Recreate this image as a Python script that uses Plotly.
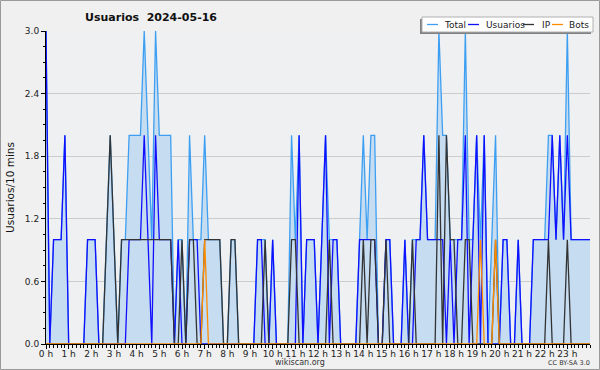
import plotly.graph_objects as go

# ---------------- data (10-minute bins, 0 h .. 24 h) ----------------
step_minutes = 10

total = [3, 0, 1, 1, 1, 2, 0, 0, 0, 0, 0, 1, 1, 1, 0, 0, 1, 2, 1, 0,
         1, 1, 2, 2, 2, 2, 3, 2, 1, 3, 2, 2, 2, 2, 0, 1, 1, 0, 2, 1,
         1, 1, 2, 1, 1, 1, 1, 0, 0, 1, 1, 0, 0, 0, 0, 0, 1, 1, 1, 0,
         1, 0, 0, 0, 0, 2, 1, 2, 0, 1, 1, 1, 0, 1, 2, 1, 1, 1, 0, 0,
         0, 0, 0, 1, 2, 1, 2, 2, 0, 0, 1, 1, 0, 0, 0, 1, 0, 1, 1, 1,
         2, 1, 1, 1, 3, 2, 2, 1, 1, 1, 1, 3, 1, 1, 2, 1, 2, 0, 1, 2,
         0, 1, 1, 0, 0, 1, 0, 0, 0, 1, 1, 1, 1, 2, 2, 1, 2, 1, 3, 1,
         1, 1, 1, 1, 1]

usuarios = [3, 0, 1, 1, 1, 2, 0, 0, 0, 0, 0, 1, 1, 1, 0, 0, 0, 0, 0, 0,
            0, 0, 1, 1, 1, 1, 2, 1, 0, 2, 1, 1, 1, 1, 0, 1, 0, 0, 1, 1,
            1, 0, 0, 0, 0, 0, 0, 0, 0, 0, 0, 0, 0, 0, 0, 0, 1, 1, 0, 0,
            1, 0, 0, 0, 0, 0, 0, 2, 0, 1, 1, 1, 0, 1, 2, 0, 1, 1, 0, 0,
            0, 0, 0, 1, 1, 1, 1, 1, 0, 0, 1, 1, 0, 0, 0, 1, 0, 0, 1, 1,
            2, 1, 1, 1, 1, 1, 0, 1, 0, 1, 1, 2, 0, 1, 2, 0, 2, 0, 0, 0,
            0, 1, 1, 0, 0, 1, 0, 0, 0, 1, 1, 1, 1, 1, 2, 1, 2, 1, 2, 1,
            1, 1, 1, 1, 1]

ip = [0, 0, 0, 0, 0, 0, 0, 0, 0, 0, 0, 0, 0, 0, 0, 0, 1, 2, 1, 0,
      1, 1, 1, 1, 1, 1, 1, 1, 1, 1, 1, 1, 1, 1, 0, 0, 1, 0, 1, 1,
      0, 0, 1, 1, 1, 1, 1, 0, 0, 1, 1, 0, 0, 0, 0, 0, 0, 0, 1, 0,
      0, 0, 0, 0, 0, 1, 1, 0, 0, 0, 0, 0, 0, 0, 0, 1, 0, 0, 0, 0,
      0, 0, 0, 0, 1, 0, 1, 1, 0, 0, 1, 0, 0, 0, 0, 0, 0, 1, 0, 0,
      0, 0, 0, 0, 2, 0, 2, 1, 1, 0, 0, 1, 1, 0, 0, 0, 0, 0, 0, 1,
      0, 0, 0, 0, 0, 0, 0, 0, 0, 0, 0, 0, 0, 1, 0, 0, 0, 0, 1, 0,
      0, 0, 0, 0, 0]

bots = [0, 0, 0, 0, 0, 0, 0, 0, 0, 0, 0, 0, 0, 0, 0, 0, 0, 0, 0, 0,
        0, 0, 0, 0, 0, 0, 0, 0, 0, 0, 0, 0, 0, 0, 0, 0, 0, 0, 0, 0,
        0, 0, 1, 0, 0, 0, 0, 0, 0, 0, 0, 0, 0, 0, 0, 0, 0, 0, 0, 0,
        0, 0, 0, 0, 0, 0, 0, 0, 0, 0, 0, 0, 0, 0, 0, 0, 0, 0, 0, 0,
        0, 0, 0, 0, 0, 0, 0, 0, 0, 0, 0, 0, 0, 0, 0, 0, 0, 0, 0, 0,
        0, 0, 0, 0, 0, 0, 0, 0, 0, 0, 0, 0, 0, 0, 0, 1, 0, 0, 0, 1,
        0, 0, 0, 0, 0, 0, 0, 0, 0, 0, 0, 0, 0, 0, 0, 0, 0, 0, 0, 0,
        0, 0, 0, 0, 0]

series_names = ["Total", "Usuarios", "IP", "Bots"]

x_tick_values = [0, 1, 2, 3, 4, 5, 6, 7, 8, 9, 10, 11, 12, 13, 14, 15, 16,
                 17, 18, 19, 20, 21, 22, 23]
x_tick_labels = ["0 h", "1 h", "2 h", "3 h", "4 h", "5 h", "6 h", "7 h",
                 "8 h", "9 h", "10 h", "11 h", "12 h", "13 h", "14 h", "15 h",
                 "16 h", "17 h", "18 h", "19 h", "20 h", "21 h", "22 h", "23 h"]
y_tick_values = [0, 0.6, 1.2, 1.8, 2.4, 3.0]
y_tick_labels = ["0.0", "0.6", "1.2", "1.8", "2.4", "3.0"]

title_text = "Usuarios  2024-05-16"
y_title = "Usuarios/10 mins"
footer_text = "wikiscan.org"
license_text = "CC BY-SA 3.0"

# time of each bin, in hours
hours = [i * step_minutes / 60 for i in range(len(total))]
minor_ticks = [i * step_minutes / 60 for i in range(len(total))]

# ---------------- styles ----------------
colors = {"Total": "#3d9ff2", "Usuarios": "#1010ff", "IP": "#333333", "Bots": "#ff8c00"}
fill_color = "#c6dcf0"
FONT = "DejaVu Sans"

W, H = 600, 370
L, R, T, B = 46, 10, 31, 26
PW, PH = W - L - R, H - T - B


def px_x(px):
    return (px - L) / PW


def px_y(py):
    return (H - B - py) / PH


fig = go.Figure()
fig.add_trace(go.Scatter(x=hours, y=total, name="Total", mode="lines",
                         line=dict(color=colors["Total"], width=1.3),
                         fill="tozeroy", fillcolor=fill_color))
fig.add_trace(go.Scatter(x=hours, y=usuarios, name="Usuarios", mode="lines",
                         line=dict(color=colors["Usuarios"], width=1.3)))
fig.add_trace(go.Scatter(x=hours, y=ip, name="IP", mode="lines",
                         line=dict(color=colors["IP"], width=1.3)))
fig.add_trace(go.Scatter(x=hours, y=bots, name="Bots", mode="lines",
                         line=dict(color=colors["Bots"], width=1.3)))

fig.update_layout(
    width=W, height=H,
    margin=dict(l=L, r=R, t=T, b=B, pad=0, autoexpand=False),
    paper_bgcolor="#f0f0f0",
    plot_bgcolor="#eef0f2",
    showlegend=False,
    font=dict(family=FONT, size=9, color="#222222"),
    title=dict(text=title_text, x=151 / W, xanchor="center", xref="container",
               y=1 - 17 / H, yanchor="middle", yref="container", automargin=False,
               font=dict(family=FONT, size=11, color="#111111", weight="bold")),
    xaxis=dict(range=[0, 24], tickmode="array", tickvals=x_tick_values, ticktext=x_tick_labels,
               ticks="outside", ticklen=4, tickcolor="#000000", tickwidth=1,
               ticklabelstandoff=-3,
               showline=True, linecolor="#000000", linewidth=1, automargin=False,
               showgrid=False, zeroline=False,
               tickfont=dict(family=FONT, size=9, color="#222222"),
               minor=dict(tickmode="array", tickvals=minor_ticks, ticks="outside",
                          ticklen=3, tickcolor="#000000", showgrid=False)),
    yaxis=dict(range=[0, 3], tickmode="array", tickvals=y_tick_values, ticktext=y_tick_labels,
               ticks="outside", ticklen=4, tickcolor="#000000", automargin=False,
               showline=True, linecolor="#000000", linewidth=1,
               showgrid=True, gridcolor="#cccccc", gridwidth=1, zeroline=False,
               tickfont=dict(family=FONT, size=9, color="#222222"),
               title=dict(text=y_title, standoff=8, font=dict(family=FONT, size=10.5, color="#111111")),
               minor=dict(dtick=0.15, ticks="outside", ticklen=2, tickcolor="#000000", showgrid=False)),
)

shapes = []
annotations = []

# outer border
shapes.append(dict(type="rect", xref="paper", yref="paper",
                   x0=px_x(0.5), x1=px_x(599.5), y0=px_y(0.5), y1=px_y(369.5),
                   line=dict(color="#9a9a9a", width=1), fillcolor="rgba(0,0,0,0)", layer="above"))

# legend box (shadow + box)
shapes.append(dict(type="rect", xref="paper", yref="paper",
                   x0=px_x(420), x1=px_x(591), y0=px_y(19), y1=px_y(34),
                   line=dict(width=0), fillcolor="#808080", layer="above"))
shapes.append(dict(type="rect", xref="paper", yref="paper",
                   x0=px_x(422), x1=px_x(593), y0=px_y(17), y1=px_y(32),
                   line=dict(color="#b0b0b0", width=1), fillcolor="#ffffff", layer="above"))

legend_items = [("Total", 427, 442), ("Usuarios", 468, 484), ("IP", 523, 540), ("Bots", 552, 567)]
for name, lx, tx in legend_items:
    shapes.append(dict(type="line", xref="paper", yref="paper",
                       x0=px_x(lx), x1=px_x(lx + 11), y0=px_y(24.5), y1=px_y(24.5),
                       line=dict(color=colors[name], width=1.3), layer="above"))
    annotations.append(dict(text=name, xref="paper", yref="paper", x=px_x(tx), y=px_y(24.5),
                            xanchor="left", yanchor="middle", showarrow=False,
                            font=dict(family=FONT, size=9, color="#222222")))

annotations.append(dict(text=footer_text, xref="paper", yref="paper", x=px_x(300), y=px_y(362),
                        xanchor="center", yanchor="middle", showarrow=False,
                        font=dict(family=FONT, size=8, color="#333333")))
annotations.append(dict(text=license_text, xref="paper", yref="paper", x=px_x(592), y=px_y(363),
                        xanchor="right", yanchor="middle", showarrow=False,
                        font=dict(family=FONT, size=6.5, color="#333333")))

fig.update_layout(shapes=shapes, annotations=annotations)

fig.write_html("out.html",
               config={"displayModeBar": False},
               post_script="document.body.style.margin='0';document.body.style.padding='0';"
                           "document.body.style.overflow='hidden';")
